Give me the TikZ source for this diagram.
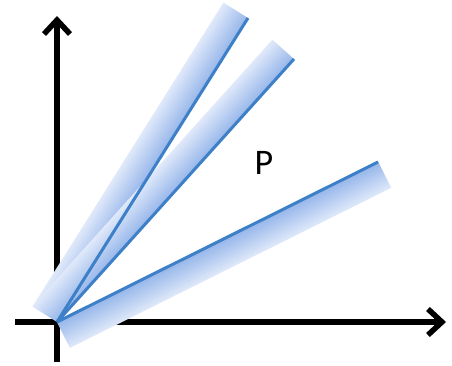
\documentclass[tikz,border=0pt]{standalone}
\usepackage{fontspec}
\setmainfont{Carlito}
\usetikzlibrary{arrows.meta}

\definecolor{raycol}{RGB}{62,128,200}
\definecolor{banddark}{RGB}{150,182,234}
\definecolor{bandlight}{RGB}{224,233,250}

\begin{document}
\begin{tikzpicture}[x=1pt, y=1pt]
  \tikzset{axisline/.style={draw=black, line width=5.5pt,
             -{Straight Barb[length=14pt, width=26pt]}},
           rayline/.style={draw=raycol, line width=3pt},
           bandfill/.style={top color=bandlight, bottom color=banddark}}
  \useasboundingbox (0,0) rectangle (452,365);

  \coordinate (O) at (57,43);
  \coordinate (xl) at (15,43);
  \coordinate (xr) at (446,43);
  \coordinate (yb) at (57,3);
  \coordinate (yt) at (57,349);
  \coordinate (e1) at (248,347);
  \coordinate (e2) at (294,306);
  \coordinate (e3) at (378,203);

  % axes
  \draw[axisline] (xl) -- (xr);
  \draw[axisline] (yb) -- (yt);

  % bands along the rays
  \shade[bandfill, transform canvas={shift={(O)}, rotate=57.86}] (0,0) rectangle (359,29);
  \shade[bandfill, transform canvas={shift={(O)}, rotate=47.98}] (0,0) rectangle (354,29);
  \shade[top color=banddark, bottom color=bandlight,
         transform canvas={shift={(O)}, rotate=26.49}] (0,-29) rectangle (359,0);

  % rays
  \draw[rayline] (O) -- (e1);
  \draw[rayline] (O) -- (e2);
  \draw[rayline] (O) -- (e3);

  \node[font=\fontsize{36pt}{36pt}\selectfont] (p) at (264,202) {P};
\end{tikzpicture}
\end{document}
